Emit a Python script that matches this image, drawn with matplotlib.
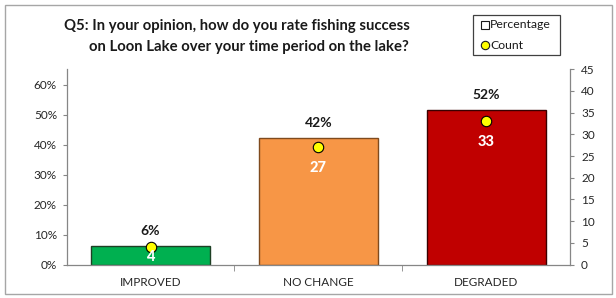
import matplotlib
matplotlib.use("Agg")
import matplotlib.pyplot as plt
from matplotlib.patches import Rectangle
from matplotlib.lines import Line2D

categories = ["IMPROVED", "NO CHANGE", "DEGRADED"]
percentages = [0.0625, 0.4219, 0.5156]
pct_labels = ["6%", "42%", "52%"]
counts = [4, 27, 33]
bar_colors = ["#00B050", "#F79646", "#C00000"]
edge_colors = ["#1E3F24", "#7F4A1E", "#3A0000"]

plt.rcParams['font.family'] = ['Lato', 'DejaVu Sans']

W, H = 616, 298
fig = plt.figure(figsize=(W / 100, H / 100), dpi=100)

# plot area in pixels
left, right, top, bottom = 66.7, 570, 69.3, 264.5
ax = fig.add_axes([left / W, 1 - bottom / H, (right - left) / W, (bottom - top) / H])
ax2 = ax.twinx()

x = list(range(len(categories)))
ax.bar(x, percentages, width=0.71, color=bar_colors, edgecolor=edge_colors, linewidth=1, zorder=2)
ax.set_xlim(-0.5, len(categories) - 0.5)
ax.set_ylim(0, 0.651)
ax.set_yticks([0, 0.1, 0.2, 0.3, 0.4, 0.5, 0.6])
ax.set_yticklabels([f"{int(round(v*100))}%" for v in ax.get_yticks()])
ax.set_xticks(x)
ax.set_xticklabels(categories)
ax.set_xticks([0.5, 1.5], minor=True)
ax.tick_params(axis='x', which='major', length=0, pad=9, labelsize=8.5, labelcolor='#262626')
ax.tick_params(axis='x', which='minor', length=4, color='#868686', direction='out')
ax.tick_params(axis='y', length=3, color='#868686', labelsize=8.5, labelcolor='#262626', pad=4)

ax2.set_ylim(0, 45)
ax2.set_yticks(range(0, 46, 5))
ax2.tick_params(axis='y', length=3, color='#868686', labelsize=8.5, labelcolor='#262626', pad=5)
ax2.plot(x, counts, linestyle='none', marker='o', markersize=7.5,
         markerfacecolor='#FFFF00', markeredgecolor='#000000', markeredgewidth=0.8, zorder=5)

for a in (ax, ax2):
    a.spines['top'].set_visible(False)
    for s in ('left', 'right', 'bottom'):
        a.spines[s].set_color('#868686')
        a.spines[s].set_linewidth(0.9)
ax.spines['right'].set_visible(False)
ax2.spines['left'].set_visible(False)
ax2.spines['bottom'].set_visible(False)

px_per_pt = 100 / 72
# percentage labels above bars
for xi, p, lab in zip(x, percentages, pct_labels):
    ax.annotate(lab, (xi, p), xytext=(0, 15 / px_per_pt), textcoords='offset points',
                ha='center', va='center', fontsize=10, fontweight='bold', color='#1a1a1a')

# count labels below dots
plot_h = bottom - top
for xi, c in zip(x, counts):
    dot_px = c / 45 * plot_h
    off = min(21, dot_px - 7.5)
    ax2.annotate(str(c), (xi, c), xytext=(0, -off / px_per_pt), textcoords='offset points',
                 ha='center', va='center', fontsize=10.5, fontweight='black', color='white', zorder=6)

# title
fig.text(236.7 / W, 1 - 26 / H, "Q5: In your opinion, how do you rate fishing success",
         ha='center', va='center', fontsize=10.7, fontweight='bold', color='#1a1a1a')
fig.text(249 / W, 1 - 46.7 / H, "on Loon Lake over your time period on the lake?",
         ha='center', va='center', fontsize=10.7, fontweight='bold', color='#1a1a1a')

# legend box
fig.patches.append(Rectangle((473 / W, 1 - 55 / H), 87 / W, 40 / H, transform=fig.transFigure,
                             facecolor='white', edgecolor='#404040', linewidth=0.9))
fig.lines.append(Line2D([484.5 / W], [1 - 25 / H], transform=fig.transFigure, marker='s',
                        markersize=5.5, markerfacecolor='white', markeredgecolor='#1a1a1a',
                        markeredgewidth=0.8, linestyle='none'))
fig.text(490 / W, 1 - 25 / H, "Percentage", ha='left', va='center', fontsize=8.8, color='#1a1a1a')
fig.lines.append(Line2D([485 / W], [1 - 45 / H], transform=fig.transFigure, marker='o',
                        markersize=6, markerfacecolor='#FFFF00', markeredgecolor='#1a1a1a',
                        markeredgewidth=0.8, linestyle='none'))
fig.text(490 / W, 1 - 45 / H, "Count", ha='left', va='center', fontsize=8.8, color='#1a1a1a')

# outer border
fig.patches.append(Rectangle((4.5 / W, 1 - 294 / H), 607 / W, 289.5 / H, transform=fig.transFigure,
                             facecolor='none', edgecolor='#A6A6A6', linewidth=1))

fig.savefig("out.png", dpi=100)
